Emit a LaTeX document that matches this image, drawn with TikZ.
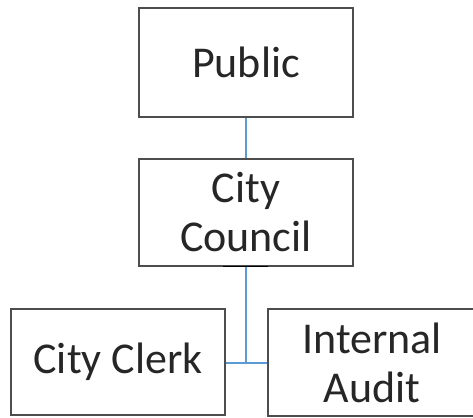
\documentclass[tikz,border=0pt]{standalone}
\usepackage{fontspec}
\setmainfont{Carlito}
\definecolor{boxline}{HTML}{4D4D4D}
\definecolor{linkblue}{HTML}{5B9BD5}
\begin{document}
\begin{tikzpicture}[x=1pt,y=1pt,
  orgbox/.style={draw=boxline, line width=1.3pt, rectangle, inner sep=0pt,
    align=center, font=\fontsize{44}{49}\selectfont, text=black!85},
  link/.style={draw=linkblue, line width=2pt}]
\useasboundingbox (0,0) rectangle (473,417);
\node[orgbox, minimum width=214pt, minimum height=109pt] (public) at (246,354.5) {Public};
\node[orgbox, minimum width=214pt, minimum height=107pt] (council) at (246,204.5) {City\\Council};
\node[orgbox, minimum width=214pt, minimum height=106pt] (clerk) at (118,55) {City Clerk};
\node[orgbox, minimum width=208pt, minimum height=107pt] (audit) at (372,54.5) {Internal\\Audit};
\coordinate (j) at (246,54);
\draw[link] (public.south) -- (council.north);
\draw[link] (council.south) -- (j);
\draw[link] (clerk.east |- j) -- (audit.west |- j);
\draw[line width=1.6pt, black] ([xshift=-23pt]council.south) -- ([xshift=22pt]council.south);
\end{tikzpicture}
\end{document}
